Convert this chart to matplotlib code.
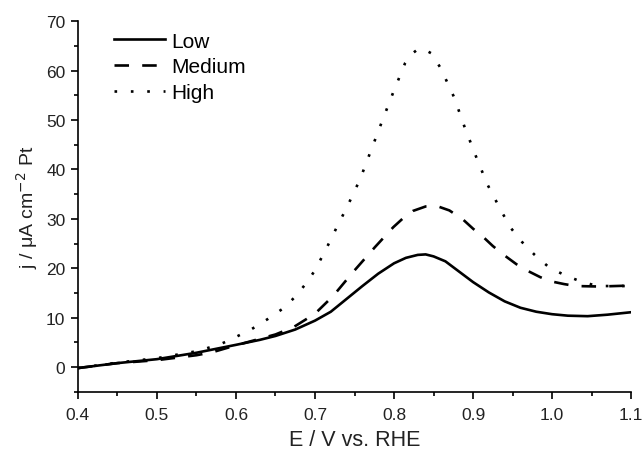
import numpy as np
import matplotlib
matplotlib.use("Agg")
import matplotlib.pyplot as plt
from matplotlib.ticker import MultipleLocator

plt.rcParams['font.family'] = ['Liberation Sans', 'DejaVu Sans']

low_E = [0.40, 0.45, 0.50, 0.55, 0.60, 0.63, 0.65, 0.675, 0.70, 0.72, 0.74, 0.76, 0.78, 0.80, 0.815, 0.83, 0.84, 0.85, 0.865, 0.88, 0.90, 0.92, 0.94, 0.96, 0.98, 1.00, 1.02, 1.045, 1.07, 1.10]
low_j = [-0.2, 0.8, 1.6, 2.9, 4.5, 5.5, 6.3, 7.6, 9.4, 11.2, 13.8, 16.4, 18.9, 21.0, 22.1, 22.7, 22.8, 22.4, 21.4, 19.6, 17.2, 15.1, 13.3, 12.0, 11.2, 10.7, 10.4, 10.3, 10.6, 11.1]

med_E = [0.40, 0.45, 0.50, 0.55, 0.57, 0.60, 0.65, 0.673, 0.70, 0.723, 0.748, 0.776, 0.799, 0.812, 0.824, 0.84, 0.854, 0.87, 0.887, 0.90, 0.913, 0.925, 0.938, 0.955, 0.97, 0.985, 0.997, 1.015, 1.03, 1.06, 1.10]
med_j = [-0.2, 0.8, 1.4, 2.4, 3.0, 4.4, 6.6, 8.1, 10.8, 14.4, 19.2, 24.3, 28.3, 30.2, 31.6, 32.5, 32.6, 31.7, 29.9, 28.0, 26.3, 24.5, 22.8, 20.8, 19.4, 18.2, 17.4, 16.8, 16.4, 16.3, 16.5]

high_E = [0.40, 0.45, 0.50, 0.55, 0.58, 0.60, 0.62, 0.64, 0.66, 0.676, 0.69, 0.70, 0.715, 0.73, 0.74, 0.757, 0.771, 0.785, 0.799, 0.814, 0.822, 0.83, 0.838, 0.847, 0.859, 0.876, 0.889, 0.903, 0.918, 0.937, 0.948, 0.962, 0.978, 0.996, 1.016, 1.035, 1.057, 1.10]
high_j = [-0.2, 0.9, 1.8, 3.2, 4.6, 6.1, 7.7, 9.7, 11.9, 14.4, 17.2, 19.6, 24.2, 29.1, 32.2, 38.0, 43.9, 49.8, 55.6, 61.5, 63.3, 64.3, 64.3, 63.5, 60.5, 54.6, 48.7, 42.9, 37.0, 31.2, 28.1, 25.3, 22.7, 20.2, 18.6, 17.4, 16.4, 16.4]

fig = plt.figure(figsize=(6.44, 4.52), dpi=100)
ax = fig.add_axes([0.121, 0.131, 0.859, 0.820])

lw = 1.9
ax.plot(low_E, low_j, color='black', lw=lw, ls='-', label='Low')
ax.plot(med_E, med_j, color='black', lw=lw, ls=(0, (5.5, 5)), label='Medium')
ax.plot(high_E, high_j, color='black', lw=lw, ls=(0, (1, 5.2)), label='High')

ax.set_xlim(0.4, 1.1)
ax.set_ylim(-5, 70)
ax.xaxis.set_minor_locator(MultipleLocator(0.05))
ax.yaxis.set_minor_locator(MultipleLocator(5))
ax.set_xticks([0.4, 0.5, 0.6, 0.7, 0.8, 0.9, 1.0, 1.1])
ax.set_xticklabels(['0.4', '0.5', '0.6', '0.7', '0.8', '0.9', '1.0', '1.1'])
ax.set_yticks([0, 10, 20, 30, 40, 50, 60, 70])
ax.set_yticklabels(['0', '10', '20', '30', '40', '50', '60', '70'])

ax.spines['top'].set_visible(False)
ax.spines['right'].set_visible(False)
ax.spines['left'].set_linewidth(1.2)
ax.spines['bottom'].set_linewidth(1.2)
ax.tick_params(which='major', direction='out', length=5, width=1.2, labelsize=12.5, colors='black', pad=4)
ax.tick_params(axis='x', which='major', pad=6)
ax.tick_params(which='minor', direction='out', length=3, width=1.2)
for lab in ax.get_xticklabels() + ax.get_yticklabels():
    lab.set_color('#222222')

ax.set_xlabel('E / V vs. RHE', fontsize=15.5, color='#222222', labelpad=5)
ax.set_ylabel('j / μA cm$^{-2}$ Pt', fontsize=14, color='#222222', labelpad=4)

leg = ax.legend(loc='upper left', bbox_to_anchor=(0.066, 0.972), frameon=False, fontsize=15,
                handlelength=2.45, handletextpad=0.3, labelspacing=0.33, borderaxespad=0.0,
                borderpad=0.0)

fig.savefig('out.png', dpi=100)
